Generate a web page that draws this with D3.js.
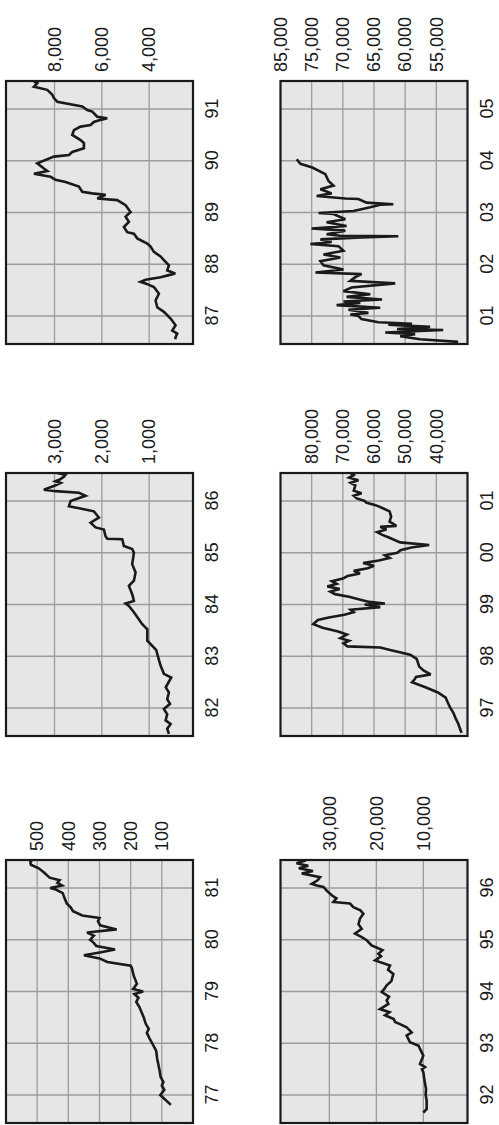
<!DOCTYPE html>
<html>
<head>
<meta charset="utf-8">
<script src="https://cdn.jsdelivr.net/npm/d3@7"></script>
<style>
  body { margin: 0; background: #fff; }
  svg { display: block; }
</style>
</head>
<body>
<script>
// values: [year, price]
const series7781 = [[1976.81,71],[1977.0,105],[1977.1,92],[1977.18,100],[1977.25,95],[1977.35,104],[1977.5,108],[1977.7,115],[1977.85,118],[1978.0,131],[1978.1,140],[1978.2,148],[1978.28,142],[1978.38,152],[1978.5,158],[1978.6,165],[1978.7,172],[1978.8,182],[1978.88,175],[1978.95,188],[1979.0,160],[1979.05,192],[1979.15,180],[1979.3,190],[1979.45,196],[1979.5,200],[1979.57,275],[1979.64,300],[1979.7,350],[1979.76,295],[1979.81,250],[1979.88,310],[1979.95,320],[1980.0,330],[1980.08,318],[1980.14,340],[1980.2,245],[1980.28,298],[1980.36,305],[1980.42,300],[1980.47,355],[1980.55,385],[1980.62,392],[1980.7,405],[1980.8,412],[1980.9,418],[1980.97,440],[1981.0,458],[1981.05,420],[1981.1,435],[1981.15,428],[1981.2,460],[1981.3,478],[1981.38,495],[1981.45,520],[1981.5,522],[1981.53,517]];
const series8286 = [[1981.5,584],[1981.6,620],[1981.69,549],[1981.76,654],[1981.88,620],[1981.98,690],[1982.08,560],[1982.17,620],[1982.3,584],[1982.4,650],[1982.59,535],[1982.66,690],[1982.82,760],[1983.04,830],[1983.12,850],[1983.3,1040],[1983.52,1040],[1983.62,1147],[1983.85,1323],[1983.97,1429],[1984.02,1500],[1984.07,1323],[1984.2,1359],[1984.36,1429],[1984.46,1323],[1984.62,1288],[1984.78,1359],[1985.0,1323],[1985.07,1359],[1985.13,1535],[1985.26,1570],[1985.27,1886],[1985.32,1922],[1985.45,1957],[1985.49,2133],[1985.58,2239],[1985.68,2063],[1985.8,2168],[1985.84,2379],[1985.9,2696],[1986.0,2660],[1986.1,2344],[1986.16,2485],[1986.19,2978],[1986.22,3225],[1986.29,3014],[1986.35,2872],[1986.38,2980],[1986.42,2880],[1986.47,2802],[1986.51,2767],[1986.54,2950]];
const series8791 = [[1986.55,2900],[1986.59,2886],[1986.66,2816],[1986.72,3027],[1986.82,2886],[1986.95,3097],[1987.08,3379],[1987.17,3660],[1987.3,3731],[1987.43,3590],[1987.56,3801],[1987.62,4100],[1987.66,4365],[1987.7,4150],[1987.75,3520],[1987.79,3168],[1987.82,2900],[1987.88,3238],[1987.98,3168],[1988.08,3379],[1988.15,3520],[1988.24,3801],[1988.34,3942],[1988.4,4083],[1988.5,4505],[1988.59,4646],[1988.62,4928],[1988.72,5069],[1988.82,4858],[1988.92,4998],[1989.01,4787],[1989.14,4998],[1989.24,5350],[1989.27,6195],[1989.34,5843],[1989.37,6406],[1989.4,6829],[1989.5,6970],[1989.59,7533],[1989.63,7955],[1989.69,8166],[1989.72,8518],[1989.75,8870],[1989.8,8300],[1989.85,8448],[1989.95,8730],[1990.08,8026],[1990.11,7392],[1990.17,7251],[1990.24,6758],[1990.34,6758],[1990.4,6899],[1990.5,7251],[1990.59,7181],[1990.66,6899],[1990.69,6477],[1990.75,6336],[1990.79,6054],[1990.82,5773],[1990.85,6195],[1990.95,6406],[1990.98,6617],[1991.05,6829],[1991.14,7885],[1991.21,8026],[1991.28,8100],[1991.37,8307],[1991.43,8870],[1991.5,8729],[1991.53,8870]];
const series9296 = [[1991.66,10000],[1991.73,9290],[1991.89,9290],[1992.0,9500],[1992.12,9430],[1992.25,9700],[1992.44,10000],[1992.5,10300],[1992.54,9645],[1992.6,10709],[1992.76,10000],[1992.89,10709],[1992.95,11000],[1993.02,12836],[1993.15,13545],[1993.21,12480],[1993.31,13545],[1993.37,14963],[1993.41,16027],[1993.47,16300],[1993.54,18154],[1993.6,17200],[1993.66,19218],[1993.76,17445],[1993.83,17800],[1993.9,17300],[1993.99,18863],[1994.05,18300],[1994.12,17800],[1994.2,16800],[1994.34,16381],[1994.42,17500],[1994.5,17090],[1994.6,20281],[1994.68,19000],[1994.73,19572],[1994.8,18700],[1994.89,21000],[1994.99,22054],[1995.05,23118],[1995.12,24536],[1995.21,23118],[1995.3,23800],[1995.41,23472],[1995.5,22763],[1995.57,23400],[1995.63,24890],[1995.7,25599],[1995.73,29144],[1995.8,28500],[1995.86,29500],[1995.95,30561],[1996.02,31270],[1996.05,32688],[1996.08,33752],[1996.15,32500],[1996.21,31979],[1996.28,35878],[1996.33,33500],[1996.38,36500],[1996.43,34500],[1996.48,37000],[1996.52,35500],[1996.55,36000]];
const series9701 = [[1996.52,31900],[1996.6,32400],[1996.7,33000],[1996.8,33800],[1996.9,34500],[1997.0,35500],[1997.1,36300],[1997.2,37000],[1997.3,39500],[1997.4,43500],[1997.5,47800],[1997.55,47000],[1997.6,46500],[1997.65,41800],[1997.72,44000],[1997.8,45500],[1997.95,46300],[1998.03,48400],[1998.12,54800],[1998.17,58000],[1998.19,68500],[1998.25,69800],[1998.3,68000],[1998.35,70800],[1998.42,68700],[1998.48,71500],[1998.55,76500],[1998.62,79500],[1998.7,78000],[1998.75,74500],[1998.8,69500],[1998.85,66500],[1998.9,67500],[1998.95,58000],[1999.0,63000],[1999.02,56500],[1999.05,61500],[1999.1,65000],[1999.15,68000],[1999.2,72500],[1999.25,74000],[1999.3,71000],[1999.35,75000],[1999.4,72000],[1999.45,73500],[1999.5,70000],[1999.55,68500],[1999.6,64500],[1999.65,66500],[1999.7,62000],[1999.75,60000],[1999.8,63500],[1999.85,58500],[1999.9,55000],[1999.95,56500],[2000.0,52500],[2000.05,51500],[2000.1,48000],[2000.15,42300],[2000.2,51600],[2000.3,55400],[2000.35,57500],[2000.4,59000],[2000.45,56000],[2000.5,58000],[2000.52,52800],[2000.6,55000],[2000.7,54500],[2000.8,55000],[2000.87,57500],[2000.92,59500],[2000.97,62500],[2001.0,63000],[2001.05,65500],[2001.1,66500],[2001.15,64000],[2001.2,66500],[2001.3,66000],[2001.35,67500],[2001.4,65000],[2001.45,68000],[2001.5,66500],[2001.54,67500]];
const series0105 = [[2000.5,51500],[2000.55,57600],[2000.61,60800],[2000.65,58400],[2000.68,63200],[2000.73,53900],[2000.75,61300],[2000.79,56000],[2000.83,62700],[2000.85,58900],[2000.88,64300],[2000.94,67000],[2001.0,67500],[2001.03,68800],[2001.06,65900],[2001.12,69100],[2001.16,64000],[2001.21,71000],[2001.25,67200],[2001.28,69900],[2001.32,63700],[2001.37,69400],[2001.42,65600],[2001.48,69900],[2001.55,68600],[2001.63,61600],[2001.68,68800],[2001.75,68000],[2001.81,67000],[2001.84,74400],[2001.9,69900],[2001.98,73100],[2002.06,73600],[2002.13,70400],[2002.19,73100],[2002.26,69900],[2002.35,70700],[2002.39,75200],[2002.43,71800],[2002.48,73600],[2002.52,67000],[2002.54,61100],[2002.55,70400],[2002.58,72600],[2002.65,69600],[2002.69,75000],[2002.74,69400],[2002.81,72600],[2002.87,69600],[2002.97,71500],[2002.99,73900],[2003.03,68300],[2003.1,65600],[2003.15,64000],[2003.16,61900],[2003.19,66200],[2003.26,67500],[2003.27,69600],[2003.32,74200],[2003.37,71800],[2003.45,73600],[2003.52,71500],[2003.61,72300],[2003.74,72800],[2003.87,74900],[2003.94,76800],[2004.03,77400]];

// year ticks
const years7781 = [1977, 1978, 1979, 1980, 1981];
const years8286 = [1982, 1983, 1984, 1985, 1986];
const years8791 = [1987, 1988, 1989, 1990, 1991];
const years9296 = [1992, 1993, 1994, 1995, 1996];
const years9701 = [1997, 1998, 1999, 2000, 2001];
const years0105 = [2001, 2002, 2003, 2004, 2005];

// value ticks and their labels
const ticks7781 = [100, 200, 300, 400, 500];
const ticks8286 = [1000, 2000, 3000];
const ticks8791 = [4000, 6000, 8000];
const ticks9296 = [10000, 20000, 30000];
const ticks9701 = [40000, 50000, 60000, 70000, 80000];
const ticks0105 = [55000, 60000, 65000, 70000, 75000, 80000];
const labels0105 = ["55,000", "60,000", "65,000", "70,000", "75,000", "85,000"];

// value range of each panel
const domain7781 = [0, 600];
const domain8286 = [75, 4025];
const domain8791 = [2150, 10050];
const domain9296 = [600, 40400];
const domain9701 = [30000, 90000];
const domain0105 = [50000, 80000];

const panels = [
  { data: series7781, years: years7781, ticks: ticks7781, domain: domain7781, col: 0, row: 0 },
  { data: series8286, years: years8286, ticks: ticks8286, domain: domain8286, col: 1, row: 0 },
  { data: series8791, years: years8791, ticks: ticks8791, domain: domain8791, col: 2, row: 0 },
  { data: series9296, years: years9296, ticks: ticks9296, domain: domain9296, col: 0, row: 1 },
  { data: series9701, years: years9701, ticks: ticks9701, domain: domain9701, col: 1, row: 1 },
  { data: series0105, years: years0105, ticks: ticks0105, labels: labels0105, domain: domain0105, col: 2, row: 1 }
];

// the figure is laid out landscape and turned a quarter turn
const W = 1125, H = 499;
const pw = 263, ph = 187;
const colX = [2, 389, 781];
const rowY = [6, 280.5];
const font = "'Liberation Sans', Arial, sans-serif";

const svg = d3.select("body").append("svg")
    .attr("width", H)
    .attr("height", W);

const root = svg.append("g")
    .attr("transform", `translate(0,${W}) rotate(-90)`);

panels.forEach((p, i) => {
  const g = root.append("g")
      .attr("transform", `translate(${colX[p.col]},${rowY[p.row]})`);

  const x = d3.scaleLinear()
      .domain([p.years[0], p.years[p.years.length - 1]])
      .range([28, 235]);
  const y = d3.scaleLinear()
      .domain(p.domain)
      .range([ph, 0]);

  g.append("clipPath")
      .attr("id", "clip" + i)
    .append("rect")
      .attr("width", pw)
      .attr("height", ph);

  g.append("rect")
      .attr("width", pw)
      .attr("height", ph)
      .attr("fill", "#e5e6e8");

  // grid
  g.append("g")
    .selectAll("line")
    .data(p.years)
    .join("line")
      .attr("x1", d => x(d))
      .attr("x2", d => x(d))
      .attr("y1", 0)
      .attr("y2", ph)
      .attr("stroke", "#9c9c9c")
      .attr("stroke-width", 1.3);

  g.append("g")
    .selectAll("line")
    .data(p.ticks)
    .join("line")
      .attr("x1", 0)
      .attr("x2", pw)
      .attr("y1", d => y(d))
      .attr("y2", d => y(d))
      .attr("stroke", "#9c9c9c")
      .attr("stroke-width", 1.3);

  const line = d3.line()
      .x(d => x(d[0]))
      .y(d => y(d[1]));

  g.append("path")
      .datum(p.data)
      .attr("clip-path", `url(#clip${i})`)
      .attr("d", line)
      .attr("fill", "none")
      .attr("stroke", "#1a1a1a")
      .attr("stroke-width", 2.6)
      .attr("stroke-linejoin", "miter")
      .attr("stroke-miterlimit", 3);

  g.append("rect")
      .attr("width", pw)
      .attr("height", ph)
      .attr("fill", "none")
      .attr("stroke", "#1a1a1a")
      .attr("stroke-width", 2.2);

  // year labels below
  const xAxis = d3.axisBottom(x)
      .tickValues(p.years)
      .tickFormat(d => String(d % 100).padStart(2, "0"))
      .tickSize(0)
      .tickPadding(12.5);

  g.append("g")
      .attr("transform", `translate(0,${ph})`)
      .call(xAxis)
      .call(s => s.select(".domain").remove())
      .attr("font-size", 18)
      .attr("font-family", font)
      .selectAll("text").attr("fill", "#1a1a1a");

  // value labels on the right
  const yAxis = d3.axisRight(y)
      .tickValues(p.ticks)
      .tickFormat((d, k) => p.labels ? p.labels[k] : d3.format(",")(d))
      .tickSize(0)
      .tickPadding(9);

  g.append("g")
      .attr("transform", `translate(${pw},0)`)
      .call(yAxis)
      .call(s => s.select(".domain").remove())
      .attr("font-size", 18)
      .attr("font-family", font)
      .selectAll("text").attr("fill", "#1a1a1a");
});
</script>
</body>
</html>
